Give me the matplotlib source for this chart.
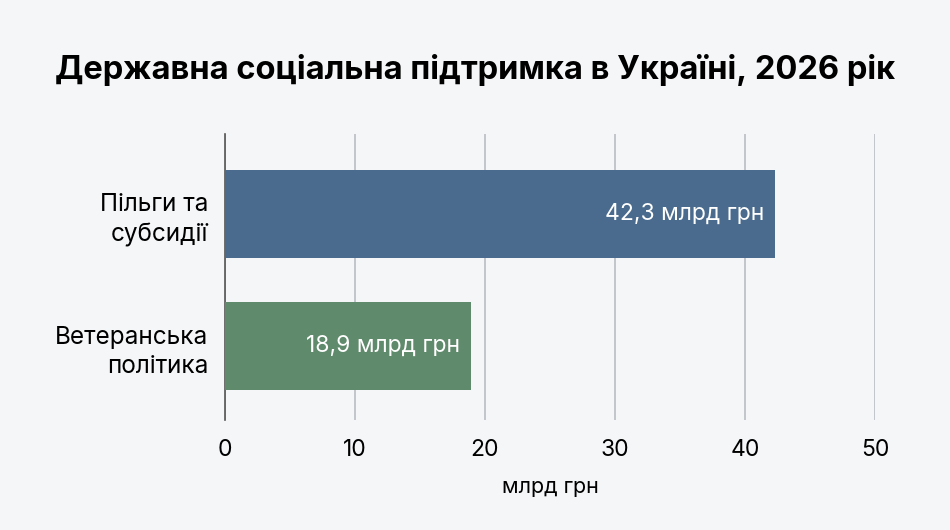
import matplotlib
matplotlib.use("Agg")
import matplotlib.pyplot as plt

plt.rcParams['font.family'] = ['Inter', 'DejaVu Sans']

categories = ["Ветеранська\nполітика", "Пільги та\nсубсидії"]
values = [18.9, 42.3]
labels = ["18,9 млрд грн", "42,3 млрд грн"]
colors = ["#5f8a6b", "#4a6b8e"]
xticks = [0, 10, 20, 30, 40, 50]

bg = "#f4f6f8"

fig = plt.figure(figsize=(9.5, 5.3), dpi=100, facecolor=bg)
ax = fig.add_axes([0.2368, 0.2075, 0.6842, 0.5396], facecolor=bg)

pos = range(len(categories))
bars = ax.barh(pos, values, height=0.67, color=colors, zorder=3)

for b, lab in zip(bars, labels):
    ax.text(b.get_width() - 0.8, b.get_y() + b.get_height() / 2, lab,
            ha="right", va="center", color="white", fontsize=16.5, zorder=4)

ax.set_xlim(0, 50)
ax.set_ylim(-0.56, 1.606)
ax.set_xticks(xticks)
ax.set_xticklabels([str(t) for t in xticks], fontsize=16.5)
ax.set_yticks(list(pos))
ax.set_yticklabels(categories, fontsize=17.5, linespacing=1.35)
ax.tick_params(axis="x", length=0, pad=14)
ax.tick_params(axis="y", length=0, pad=12)
ax.xaxis.grid(True, color="#b5b8bc", linewidth=1.1, zorder=0)
ax.set_axisbelow(True)

for s in ["top", "right", "bottom"]:
    ax.spines[s].set_visible(False)
ax.spines["left"].set_color("#555555")
ax.spines["left"].set_linewidth(1.2)

ax.set_xlabel("млрд грн", fontsize=15.5, labelpad=11)

fig.text(0.5, 0.868, "Державна соціальна підтримка в Україні, 2026 рік",
         ha="center", va="center", fontsize=23.5, fontweight="bold")

fig.savefig("out.png", dpi=100, facecolor=bg)
